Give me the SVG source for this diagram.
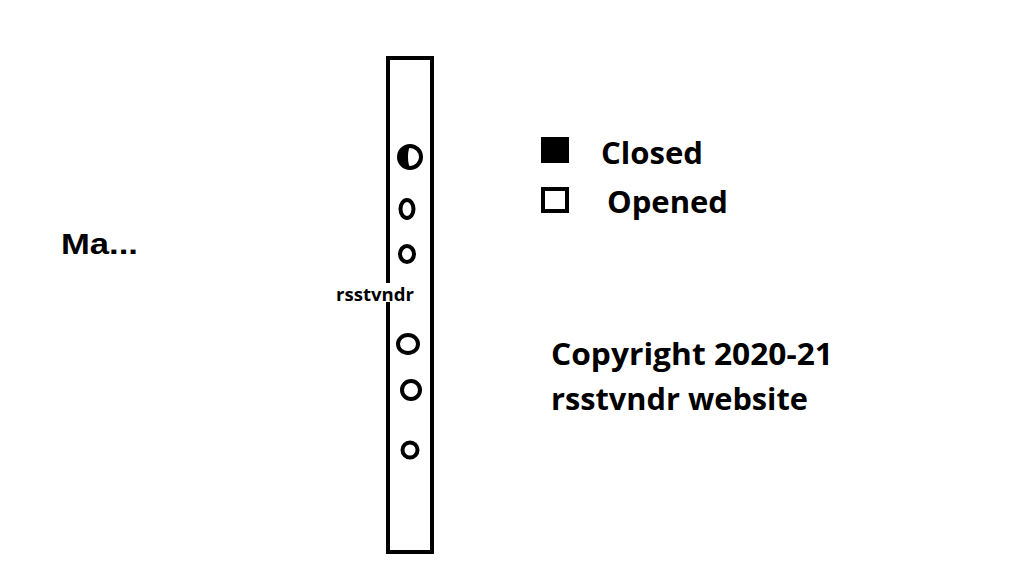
<svg xmlns="http://www.w3.org/2000/svg" width="1024" height="576" viewBox="0 0 1024 576">
<style>
.t{font-family:"Open Sans","Noto Sans",sans-serif;font-weight:bold;fill:#000}
.a{font-family:"Liberation Sans",Arial,sans-serif;font-weight:bold;fill:#000}
.h{fill:#fff;stroke:#000;stroke-width:4}
</style>
<rect width="1024" height="576" fill="#fff"/>
<g id="tube">
<rect x="388" y="58" width="44" height="494" fill="#fff" stroke="#000" stroke-width="4"/>
</g>
<g id="holes">
<g id="hole1">
<circle cx="410" cy="157" r="11" class="h"/>
<path d="M411,146 A11,11 0 0 0 411,168 A3,11 0 0 1 411,146 Z" fill="#000"/>
</g>
<ellipse id="hole2" cx="407" cy="209" rx="6.5" ry="9" class="h"/>
<ellipse id="hole3" cx="407" cy="254" rx="7" ry="8" class="h"/>
<ellipse id="hole4" cx="408" cy="344" rx="10" ry="9" class="h"/>
<ellipse id="hole5" cx="411" cy="390" rx="9" ry="9" class="h"/>
<ellipse id="hole6" cx="410" cy="450" rx="7.5" ry="7.5" class="h"/>
</g>
<g id="tube-label">
<rect x="334" y="283" width="82" height="19" fill="#fff"/>
<text x="336" y="301" class="t" font-size="17" textLength="78" lengthAdjust="spacingAndGlyphs">rsstvndr</text>
</g>
<g id="ma"><text x="61" y="254" class="a" font-size="29" textLength="77" lengthAdjust="spacingAndGlyphs">Ma...</text></g>
<g id="legend-closed">
<rect x="541" y="137" width="28" height="26" fill="#000"/>
<text x="601" y="164" class="t" font-size="30" textLength="102" lengthAdjust="spacingAndGlyphs">Closed</text>
</g>
<g id="legend-opened">
<rect x="543" y="189" width="24" height="22" fill="#fff" stroke="#000" stroke-width="4"/>
<text x="607" y="213" class="t" font-size="30" textLength="121" lengthAdjust="spacingAndGlyphs">Opened</text>
</g>
<g id="copyright">
<text x="551" y="365" class="t" font-size="30" textLength="282" lengthAdjust="spacingAndGlyphs">Copyright 2020-21</text>
<text x="551" y="410" class="t" font-size="30" textLength="257" lengthAdjust="spacingAndGlyphs">rsstvndr website</text>
</g>
</svg>
